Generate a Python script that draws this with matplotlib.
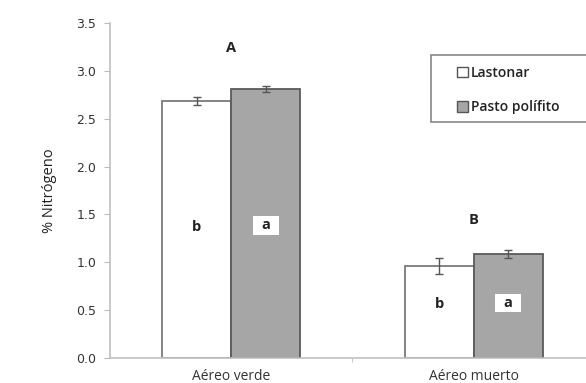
import numpy as np
import matplotlib
matplotlib.use("Agg")
import matplotlib.pyplot as plt
from matplotlib.patches import Patch, Rectangle

categories = ["Aéreo verde", "Aéreo muerto"]
series = ["Lastonar", "Pasto polífito"]
lastonar = [2.685, 0.965]
pasto = [2.81, 1.085]
lastonar_err = [0.045, 0.085]
pasto_err = [0.035, 0.045]
group_letters = ["A", "B"]
group_letter_y = [3.24, 1.44]
lastonar_letters = ["b", "b"]
pasto_letters = ["a", "a"]
letter_y = [1.37, 0.56]

fig = plt.figure(figsize=(5.86, 3.83), dpi=100)
ax = fig.add_axes([110 / 586, 25 / 383, 485 / 586, 335 / 383])

x = np.arange(len(categories))
w = 0.284
edge = "#7a7a7a"
b1 = ax.bar(x - w / 2, lastonar, w, color="white", edgecolor=edge, linewidth=1.3,
            yerr=lastonar_err, capsize=3, error_kw=dict(ecolor="#555555", elinewidth=1, capthick=1))
b2 = ax.bar(x + w / 2, pasto, w, color="#a6a6a6", edgecolor="#5a5a5a", linewidth=1.3,
            yerr=pasto_err, capsize=3, error_kw=dict(ecolor="#555555", elinewidth=1, capthick=1))

font = "Open Sans"
for i in range(len(categories)):
    ax.text(x[i], group_letter_y[i], group_letters[i], ha="center", va="center",
            fontsize=10.5, fontweight="bold", family=font, color="#222222")
    ax.text(x[i] - w / 2, letter_y[i], lastonar_letters[i], ha="center", va="center",
            fontsize=10.5, fontweight="bold", family=font, color="#222222")
    # white label box on the grey bar
    ax.add_patch(Rectangle((x[i] + w / 2 - 0.053, letter_y[i] + 0.015 - 0.095), 0.106, 0.19,
                           facecolor="white", edgecolor="none", zorder=3))
    ax.text(x[i] + w / 2, letter_y[i] + 0.015, pasto_letters[i], ha="center", va="center",
            fontsize=10.5, fontweight="bold", family=font, color="#222222", zorder=4)

ax.set_xlim(-0.5, 1.5)
ax.set_ylim(0, 3.5)
ax.set_yticks(np.arange(0, 3.51, 0.5))
ax.set_yticklabels([f"{v:.1f}" for v in np.arange(0, 3.51, 0.5)], family="DejaVu Sans",
                   fontsize=9, color="#333333")
ax.set_xticks(x)
ax.set_xticklabels(categories, family=font, fontsize=10, color="#333333")
ax.set_xticks([0.5], minor=True)
ax.tick_params(axis="x", which="major", length=0, pad=8)
ax.tick_params(axis="x", which="minor", length=3, color="#bbbbbb")
ax.tick_params(axis="y", length=4, color="#bbbbbb", pad=6)
for s in ["top", "right"]:
    ax.spines[s].set_visible(False)
for s in ["left", "bottom"]:
    ax.spines[s].set_color("#c0c0c0")
    ax.spines[s].set_linewidth(1.2)

ax.set_ylabel("% Nitrógeno", family=font, fontsize=10.5, color="#222222", labelpad=14)

# legend frame runs off the right edge, like the original
fig.patches.append(Rectangle((431 / 586, 1 - 122 / 383), 200 / 586, 67 / 383,
                             transform=fig.transFigure, facecolor="white",
                             edgecolor="#888888", linewidth=1.2, zorder=1))
handles = [Patch(facecolor="white", edgecolor="#555555", label=series[0]),
           Patch(facecolor="#a6a6a6", edgecolor="#555555", label=series[1])]
leg = fig.legend(handles=handles, loc="upper left", bbox_to_anchor=(453 / 586, 1 - 62 / 383),
                 frameon=False, handlelength=0.75, handleheight=0.75,
                 handletextpad=0.25, borderpad=0.3, labelspacing=1.45, borderaxespad=0,
                 prop={"family": font, "size": 10, "weight": "semibold"})
for t in leg.get_texts():
    t.set_color("#222222")

fig.savefig("out.png", dpi=100)
